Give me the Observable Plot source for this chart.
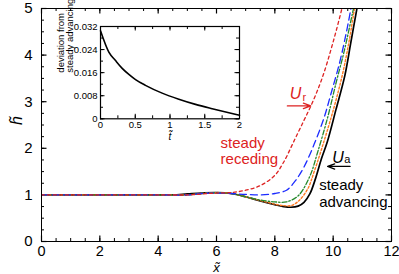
<!DOCTYPE html>
<html><head><meta charset="utf-8">
<script src="https://cdn.jsdelivr.net/npm/d3@7"></script>
<script src="https://cdn.jsdelivr.net/npm/@observablehq/plot@0.6"></script>
<style>
body{margin:0;background:#fff}
#c{position:relative;width:399px;height:274px}
#c svg{position:absolute;left:0;top:0}
</style>
</head><body><div id="c"></div>
<script>
// ---- main chart data: film height h~ vs x~ ----
const blackX  = [0, 2, 4, 4.5, 5, 5.5, 6, 6.5, 7, 7.5, 8, 8.3, 8.55, 8.8, 9.0, 9.2, 9.4, 9.6, 9.8, 10.1, 10.4, 10.6, 10.8, 10.9];
const blackH  = [1, 1, 1, 1.0, 1.02, 1.04, 1.05, 1.03, 0.96, 0.87, 0.79, 0.75, 0.735, 0.76, 0.84, 1.02, 1.36, 1.78, 2.14, 2.84, 3.56, 4.25, 4.95, 5.3];
const orangeX = [0, 2, 4, 5, 5.5, 6, 6.5, 7, 7.5, 8, 8.3, 8.55, 8.8, 9.12, 9.35, 9.69, 10.03, 10.32, 10.55, 10.72, 10.85];
const orangeH = [1, 1, 1, 1.0, 1.03, 1.05, 1.03, 0.96, 0.88, 0.8, 0.77, 0.77, 0.86, 1.12, 1.5, 2.16, 2.88, 3.59, 4.31, 4.95, 5.4];
const greenX  = [0, 2, 4, 5, 5.5, 6, 6.5, 7, 7.5, 8, 8.4, 8.8, 9.2, 9.46, 9.81, 10.09, 10.38, 10.68, 10.8];
const greenH  = [1, 1, 1, 1.0, 1.03, 1.05, 1.03, 0.96, 0.89, 0.85, 0.85, 0.98, 1.4, 1.9, 2.66, 3.38, 4.09, 4.95, 5.3];
const blueX   = [0, 2, 4, 5, 5.5, 6, 6.5, 7, 7.5, 8, 8.4, 8.7, 9.0, 9.35, 9.69, 9.92, 10.21, 10.44, 10.61, 10.7];
const blueH   = [1, 1, 1, 1.0, 1.03, 1.04, 1.03, 1.01, 1.0, 1.03, 1.1, 1.3, 1.6, 2.09, 2.66, 3.16, 3.81, 4.45, 5.0, 5.3];
const redX    = [0, 2, 4, 5, 5.5, 6, 6.5, 7, 7.5, 8, 8.3, 8.66, 9.0, 9.3, 9.63, 9.98, 10.3, 10.45];
const redH    = [1, 1, 1, 1.0, 1.02, 1.04, 1.05, 1.1, 1.2, 1.42, 1.7, 2.16, 2.6, 3.0, 3.52, 4.24, 5.0, 5.4];

// ---- inset data: deviation from steady advancing vs t~ ----
const insetT   = [0, 0.12, 0.216, 0.312, 0.408, 0.504, 0.647, 0.887, 1.127, 1.367, 1.607, 1.847, 2.0];
const insetDev = [0.0305, 0.0231, 0.0202, 0.0175, 0.0154, 0.0136, 0.0116, 0.0089, 0.0068, 0.0050, 0.0035, 0.0021, 0.0012];

// ---- ticks ----
const xMajor = [0, 2, 4, 6, 8, 10, 12];
const xMinor = d3.range(0, 12.001, 0.5);
const yMajor = [0, 1, 2, 3, 4, 5];
const yMinor = d3.range(0, 5.001, 0.25);
const tMajor = [0, 0.5, 1, 1.5, 2];
const tMinor = d3.range(0, 2.001, 0.25);
const dMajor = [0, 0.008, 0.016, 0.024, 0.032];
const dMinor = d3.range(0, 0.0321, 0.004);
const dLabels = ["0", "0.008", "0.016", "0.024", "0.032"];

const FONT = "Liberation Sans, Arimo, Arial, sans-serif";
const RED = "#dd2222", BLUE = "#1c2cff", GREEN = "#24882a", ORANGE = "#ff7a22";
const tbl = (X, H) => X.map((x, i) => ({x, h: H[i]}));

const W = 399, Ht = 274, ML = 41, MR = 8, MT = 8, MB = 33;
const FH = Ht - MT - MB, FW = W - ML - MR;

const main = Plot.plot({
  width: W, height: Ht, marginLeft: ML, marginRight: MR, marginTop: MT, marginBottom: MB,
  style: {fontFamily: FONT, fontSize: "15px", background: "transparent", overflow: "visible", color: "black"},
  x: {domain: [0, 12]},
  y: {domain: [0, 5]},
  marks: [
    // inward ticks on all four sides
    Plot.tickX(xMinor, {x: d => d, insetTop: FH - 3, strokeWidth: 1}),
    Plot.tickX(xMinor, {x: d => d, insetBottom: FH - 3, strokeWidth: 1}),
    Plot.tickX(xMajor, {x: d => d, insetTop: FH - 5.5, strokeWidth: 1.2}),
    Plot.tickX(xMajor, {x: d => d, insetBottom: FH - 5.5, strokeWidth: 1.2}),
    Plot.tickY(yMinor, {y: d => d, insetRight: FW - 3, strokeWidth: 1}),
    Plot.tickY(yMinor, {y: d => d, insetLeft: FW - 3, strokeWidth: 1}),
    Plot.tickY(yMajor, {y: d => d, insetRight: FW - 5.5, strokeWidth: 1.2}),
    Plot.tickY(yMajor, {y: d => d, insetLeft: FW - 5.5, strokeWidth: 1.2}),
    Plot.axisX({ticks: xMajor, tickSize: 0, tickPadding: 4, label: null, tickFormat: d => String(d), fontSize: 14.5}),
    Plot.axisY({ticks: yMajor, tickSize: 0, tickPadding: 9, label: null, tickFormat: d => String(d), fontSize: 15}),
    Plot.text(["x\u0303"], {text: d => d, frameAnchor: "bottom", dy: 30.5, lineAnchor: "bottom", fontStyle: "italic", fontSize: 13}),
    Plot.text(["h\u0303"], {text: d => d, frameAnchor: "left", dx: -25, rotate: -90, fontStyle: "italic", fontSize: 16}),
    // curves
    Plot.line(tbl(blackX, blackH), {x: "x", y: "h", stroke: "black", strokeWidth: 1.7, curve: "catmull-rom", clip: true}),
    Plot.line(tbl(orangeX, orangeH), {x: "x", y: "h", stroke: ORANGE, strokeWidth: 1.4, strokeDasharray: "2,2", curve: "catmull-rom", clip: true}),
    Plot.line(tbl(greenX, greenH), {x: "x", y: "h", stroke: GREEN, strokeWidth: 1.3, strokeDasharray: "5,2,1.5,2", curve: "catmull-rom", clip: true}),
    Plot.line(tbl(blueX, blueH), {x: "x", y: "h", stroke: BLUE, strokeWidth: 1.3, strokeDasharray: "7,4", curve: "catmull-rom", clip: true}),
    Plot.line(tbl(redX, redH), {x: "x", y: "h", stroke: RED, strokeWidth: 1.3, strokeDasharray: "3,3", curve: "catmull-rom", clip: true}),
    Plot.frame({stroke: "black", strokeWidth: 1}),
    // annotations
    Plot.text(["steady\nreceding"], {text: d => d, x: 6.14, y: 1.66, textAnchor: "start", lineAnchor: "bottom", lineHeight: 1.08, fill: RED, fontSize: 15}),
    Plot.text(["steady\nadvancing"], {text: d => d, x: 9.52, y: 0.73, textAnchor: "start", lineAnchor: "bottom", lineHeight: 1.18, fill: "black", fontSize: 15}),
    Plot.text(["U"], {text: d => d, x: 8.51, y: 3.06, textAnchor: "start", lineAnchor: "bottom", fontStyle: "italic", fill: RED, fontSize: 16}),
    Plot.text(["r"], {text: d => d, x: 8.95, y: 3.01, textAnchor: "start", lineAnchor: "bottom", fill: RED, fontSize: 11}),
    Plot.arrow([0], {x1: 8.43, y1: 2.91, x2: 9.23, y2: 2.91, stroke: RED, strokeWidth: 1.3, headLength: 9, headAngle: 40}),
    Plot.text(["U"], {text: d => d, x: 9.97, y: 1.69, textAnchor: "start", lineAnchor: "bottom", fontStyle: "italic", fill: "black", fontSize: 16}),
    Plot.text(["a"], {text: d => d, x: 10.38, y: 1.68, textAnchor: "start", lineAnchor: "bottom", fill: "black", fontSize: 11}),
    Plot.arrow([0], {x1: 10.58, y1: 1.61, x2: 9.81, y2: 1.61, stroke: "black", strokeWidth: 1.3, headLength: 9, headAngle: 40})
  ]
});

const IW = 245, IH = 140, IML = 100, IMR = 6, IMT = 26, IMB = 21.7;
const IFW = IW - IML - IMR, IFH = IH - IMT - IMB;
const inset = Plot.plot({
  width: IW, height: IH, marginLeft: IML, marginRight: IMR, marginTop: IMT, marginBottom: IMB,
  style: {fontFamily: FONT, fontSize: "9.5px", background: "transparent", overflow: "visible", color: "black"},
  x: {domain: [0, 2]},
  y: {domain: [0, 0.032]},
  marks: [
    Plot.frame({fill: "white", stroke: null}),
    Plot.tickX(tMinor, {x: d => d, insetTop: IFH - 3}),
    Plot.tickX(tMinor, {x: d => d, insetBottom: IFH - 3}),
    Plot.tickX(tMajor, {x: d => d, insetTop: IFH - 4.5}),
    Plot.tickX(tMajor, {x: d => d, insetBottom: IFH - 4.5}),
    Plot.tickY(dMinor, {y: d => d, insetRight: IFW - 3}),
    Plot.tickY(dMinor, {y: d => d, insetLeft: IFW - 3}),
    Plot.tickY(dMajor, {y: d => d, insetRight: IFW - 4.5}),
    Plot.tickY(dMajor, {y: d => d, insetLeft: IFW - 4.5}),
    Plot.axisX({ticks: tMajor, tickSize: 0, tickPadding: 2.5, label: null, tickFormat: d => String(d), fontSize: 9.5}),
    Plot.axisY({ticks: dMajor, tickSize: 0, tickPadding: 3, label: null, tickFormat: (d, i) => dLabels[i], fontSize: 9.5}),
    Plot.text(["t\u0303"], {text: d => d, frameAnchor: "bottom", dy: 21.2, lineAnchor: "bottom", fontStyle: "italic", fontSize: 10}),
    Plot.text(["deviation from\nsteady advancing"], {text: d => d, frameAnchor: "left", dx: -35, rotate: -90, lineHeight: 1.0, fontSize: 9.5}),
    Plot.line(insetT.map((t, i) => ({t, d: insetDev[i]})), {x: "t", y: "d", stroke: "black", strokeWidth: 1.6, curve: "monotone-x"}),
    Plot.frame({stroke: "black", strokeWidth: 1.2})
  ]
});

const c = document.getElementById("c");
c.appendChild(main);
c.appendChild(inset);
</script>
</body></html>
